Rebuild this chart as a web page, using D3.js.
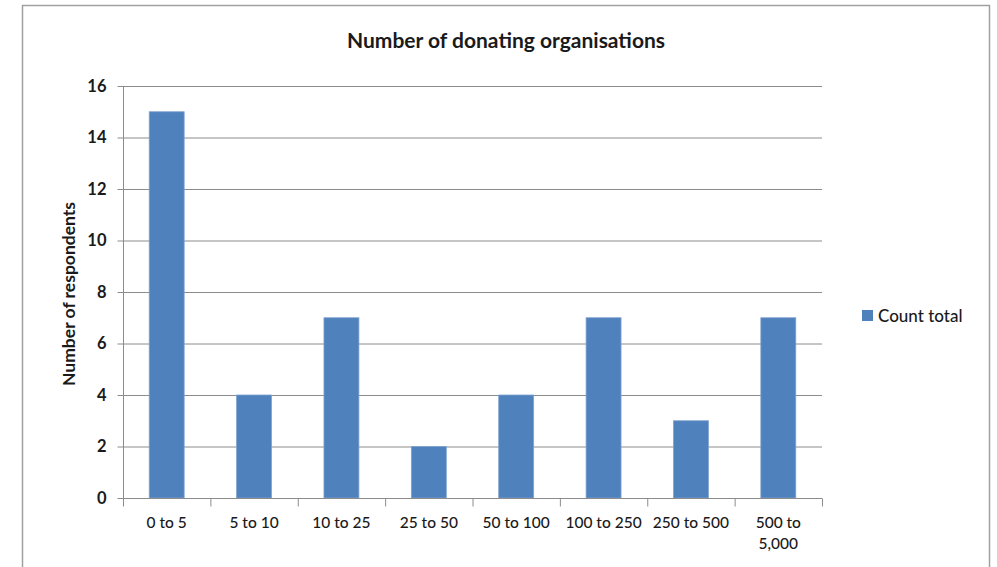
<!DOCTYPE html>
<html>
<head>
<meta charset="UTF-8">
<script src="https://d3js.org/d3.v7.min.js"></script>
<style>
  body { margin: 0; background: #fff; }
  svg { font-family: Lato, "Open Sans", sans-serif; }
</style>
</head>
<body>
<div id="chart"></div>
<script>
// data
const categories = ["0 to 5", "5 to 10", "10 to 25", "25 to 50", "50 to 100", "100 to 250", "250 to 500", "500 to 5,000"];
const counts = [15, 4, 7, 2, 4, 7, 3, 7];
const yTicks = [0, 2, 4, 6, 8, 10, 12, 14, 16];
const seriesName = "Count total";

const width = 997, height = 567;
const plot = { left: 123, right: 822, top: 86, bottom: 498 };
const barColor = "#4f81bd";
const ink = "#1a1a1a";

const svg = d3.select("#chart").append("svg")
    .attr("width", width)
    .attr("height", height);

// chart border
svg.append("rect")
    .attr("x", 22.5).attr("y", 5.5)
    .attr("width", 967).attr("height", 600)
    .attr("fill", "#fff")
    .attr("stroke", "#a0a0a0")
    .attr("stroke-width", 1.5);

const x = d3.scaleBand()
    .domain(categories)
    .range([plot.left, plot.right])
    .paddingInner(0.6)
    .paddingOuter(0.3);

const xLine = d3.scaleBand().domain(categories).range([plot.left, plot.right]);

const y = d3.scaleLinear()
    .domain([0, 16])
    .range([plot.bottom, plot.top]);

// grid lines
svg.append("g")
    .selectAll("line")
    .data(yTicks.filter(d => d > 0))
    .enter().append("line")
    .attr("x1", plot.left).attr("x2", plot.right)
    .attr("y1", d => y(d) + 0.5).attr("y2", d => y(d) + 0.5)
    .attr("stroke", "#8c8c8c");

// bars
svg.append("g")
    .selectAll("rect")
    .data(counts)
    .enter().append("rect")
    .attr("x", (d, i) => x(categories[i]))
    .attr("width", x.bandwidth())
    .attr("y", d => y(d))
    .attr("height", d => y(0) - y(d))
    .attr("fill", barColor)
    .attr("stroke", "#7fa2cf")
    .attr("stroke-width", 0.8);

// y axis
const yAxis = svg.append("g")
    .attr("transform", `translate(${plot.left + 0.5},0)`)
    .call(d3.axisLeft(y).tickValues(yTicks).tickSize(6).tickPadding(11));
yAxis.attr("font-size", 16.5).attr("font-family", null);
yAxis.select(".domain").attr("stroke", "#8c8c8c").attr("d", `M0,${plot.top}V${plot.bottom}`);
yAxis.selectAll(".tick line").attr("stroke", "#8c8c8c");
yAxis.selectAll(".tick text")
    .attr("fill", ink)
    .style("font-size", "16.5px")
    .style("font-weight", "bold");

// x axis with tick marks at category boundaries
const xAxisG = svg.append("g").attr("transform", `translate(0,${plot.bottom + 0.5})`);
xAxisG.append("line")
    .attr("x1", plot.left).attr("x2", plot.right)
    .attr("stroke", "#8c8c8c");
xAxisG.selectAll(".bound")
    .data(categories.concat([null]))
    .enter().append("line")
    .attr("x1", (d, i) => (i < categories.length ? xLine(d) : plot.right) + 0.5)
    .attr("x2", (d, i) => (i < categories.length ? xLine(d) : plot.right) + 0.5)
    .attr("y1", 0).attr("y2", 8)
    .attr("stroke", "#8c8c8c");

const xlab = xAxisG.selectAll(".lab")
    .data(categories)
    .enter().append("text")
    .attr("text-anchor", "middle")
    .attr("fill", ink)
    .style("font-size", "15.5px")
    .style("font-weight", "500")
    .attr("x", d => xLine(d) + xLine.bandwidth() / 2)
    .attr("y", 29);
xlab.each(function(d) {
    const t = d3.select(this);
    if (d === "500 to 5,000") {
        t.append("tspan").attr("x", t.attr("x")).text("500 to");
        t.append("tspan").attr("x", t.attr("x")).attr("dy", 21).text("5,000");
    } else {
        t.text(d);
    }
});

// title
svg.append("text")
    .attr("x", 506).attr("y", 48)
    .attr("text-anchor", "middle")
    .attr("fill", ink)
    .style("font-size", "21px")
    .style("font-weight", "bold")
    .text("Number of donating organisations");

// y axis title
svg.append("text")
    .attr("transform", `translate(75,${(plot.top + plot.bottom) / 2 + 2}) rotate(-90)`)
    .attr("text-anchor", "middle")
    .attr("fill", ink)
    .style("font-size", "17.5px")
    .style("font-weight", "bold")
    .text("Number of respondents");

// legend
const legend = svg.append("g").attr("transform", "translate(862,310)");
legend.append("rect")
    .attr("width", 11).attr("height", 11)
    .attr("fill", barColor);
legend.append("text")
    .attr("x", 16).attr("y", 11.5)
    .attr("fill", ink)
    .style("font-size", "17px")
    .style("font-weight", "500")
    .text(seriesName);
</script>
</body>
</html>
